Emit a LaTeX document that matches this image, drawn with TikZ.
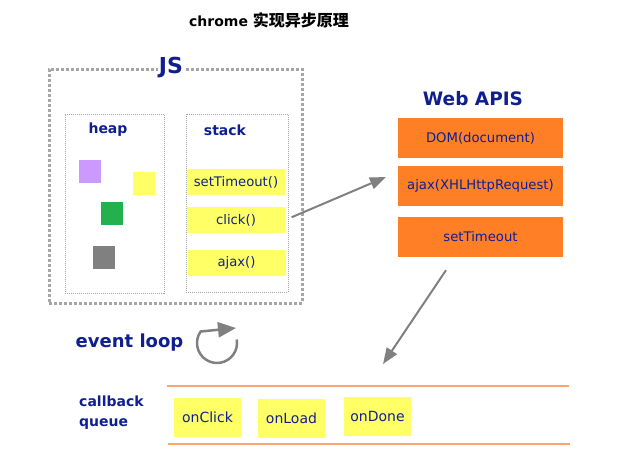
\documentclass[tikz,border=0pt]{standalone}
\usepackage{fontspec}
\setmainfont{DejaVu Sans}
\newfontfamily\cjk{Noto Sans CJK SC}
\usetikzlibrary{arrows.meta}
\definecolor{jsblue}{HTML}{0F1F8F}
\definecolor{apiorange}{HTML}{FF7F27}
\definecolor{stackyellow}{HTML}{FFFF66}
\definecolor{heappurple}{HTML}{CC99FF}
\definecolor{heapgreen}{HTML}{22B14C}
\definecolor{linegray}{HTML}{808080}
\definecolor{framegray}{HTML}{A6A6A6}
\definecolor{queueline}{HTML}{FFA66E}
\begin{document}
\begin{tikzpicture}[x=1pt,y=-1pt,lbl/.style={text=jsblue,font=\bfseries\fontsize{14}{16}\selectfont},call/.style={fill=stackyellow,inner sep=0pt,text=jsblue,font=\fontsize{13.2}{15}\selectfont,minimum width=98pt,minimum height=26pt},api/.style={call,fill=apiorange,minimum width=165pt,minimum height=40pt},cb/.style={call,font=\fontsize{14}{16}\selectfont,minimum width=67pt,minimum height=39pt},obj/.style={inner sep=0pt,minimum width=22pt,minimum height=23pt},areabox/.style={draw=framegray,line width=1pt,dash pattern=on 1pt off 1pt,inner sep=0pt},flow/.style={draw=linegray,line width=2pt,-{Triangle[length=16pt,width=12pt]}}]
\useasboundingbox (0,0) rectangle (637,475);

\node[font=\bfseries\fontsize{14}{16}\selectfont] (title) at (269,20) {chrome {\cjk\fontsize{16}{18}\selectfont 实现异步原理}};

\node[areabox,line width=3pt,dash pattern=on 3pt off 2pt,minimum width=253pt,minimum height=234pt] (js) at (175.5,186) {};
\node[lbl,fill=white,inner sep=1pt,font=\bfseries\fontsize{22}{24}\selectfont] (jsl) at (171,68) {JS};

\node[areabox,minimum width=99pt,minimum height=179pt] (heap) at (114.5,203.5) {};
\node[lbl] (heapl) at (108,130) {heap};
\node[areabox,minimum width=102pt,minimum height=178pt] (stack) at (237,203) {};
\node[lbl] (stackl) at (225,130) {stack};

\node[obj,fill=heappurple] (o1) at (90,171.5) {};
\node[obj,fill=stackyellow] (o2) at (144,183.5) {};
\node[obj,fill=heapgreen] (o3) at (112,213.5) {};
\node[obj,fill=linegray] (o4) at (104,257.5) {};

\node[call] (timeout) at (236,182) {setTimeout()};
\node[call] (click) at (236,220) {click()};
\node[call] (ajax) at (236.5,263) {ajax()};

\node[lbl,font=\bfseries\fontsize{18.5}{20}\selectfont] (webl) at (473,99) {Web APIS};
\node[api] (dom) at (480.5,138) {DOM(document)};
\node[api] (xhr) at (480.5,186) {ajax(XHLHttpRequest)};
\node[api] (timer) at (480.5,237) {setTimeout};

\coordinate (h1) at (386,177);
\draw[flow,shorten <=7pt] (click.east) -- (h1);
\coordinate (h2) at (383,364);
\draw[flow] ([xshift=-34.5pt,yshift=-13pt]timer.south) -- (h2);

\node[lbl,font=\bfseries\fontsize{18}{20}\selectfont] (loop) at (129.5,343) {event loop};
\coordinate (h3) at (236,328);
\draw[draw=linegray,line width=2.5pt,-{Triangle[length=18pt,width=15pt]}] (236.7,339.5) arc[start angle=-10,end angle=215,radius=20] -- (h3);

\node[lbl,align=left,anchor=west,inner sep=0pt,font=\bfseries\fontsize{14}{20}\selectfont] (cbq) at (79,413) {callback\\queue};
\coordinate (q1) at (167,386);
\coordinate (q2) at (569,386);
\coordinate (q3) at (168,444);
\coordinate (q4) at (570,444);
\draw[queueline,line width=2pt] (q1) -- (q2);
\draw[queueline,line width=2pt] (q3) -- (q4);

\node[cb] (onclick) at (207.5,417.5) {onClick};
\node[cb] (onload) at (291.5,418.5) {onLoad};
\node[cb] (ondone) at (377.5,416.5) {onDone};
\end{tikzpicture}
\end{document}
